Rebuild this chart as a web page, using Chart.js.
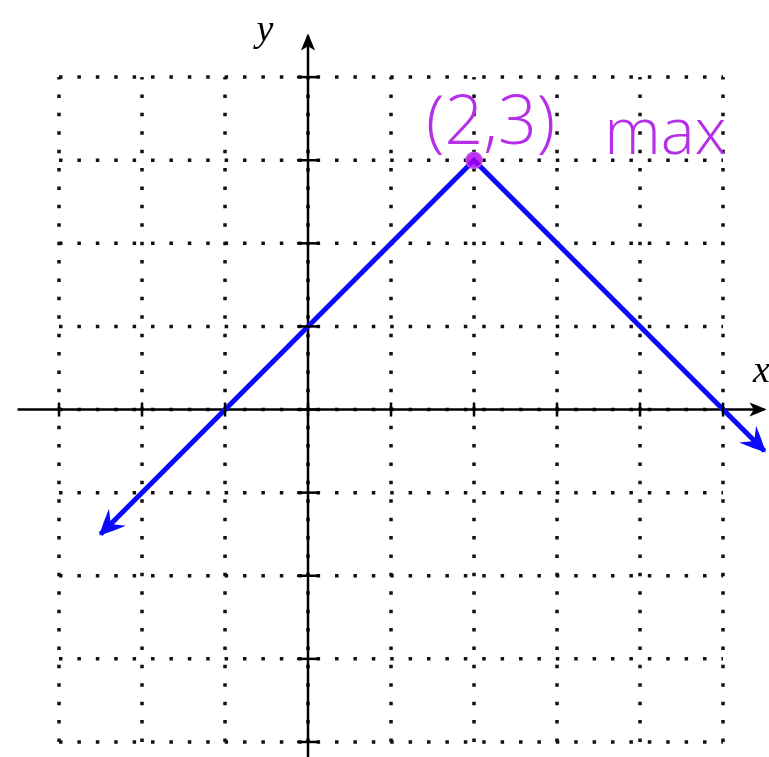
<!DOCTYPE html>
<html>
<head>
<meta charset="utf-8">
<script src="https://cdn.jsdelivr.net/npm/chart.js@4.4.1/dist/chart.umd.min.js"></script>
<style>
    html, body { margin: 0; padding: 0; background: #fff; }
    canvas { display: block; }
</style>
</head>
<body>
<canvas id="graph" width="769" height="757"></canvas>
<script>
// Valores de la gráfica y = -|x - 2| + 3
const xTicks = [-3, -2, -1, 0, 1, 2, 3, 4, 5];
const yTicks = [-4, -3, -2, -1, 0, 1, 2, 3, 4];
const lineX = [-2.5, 2, 5.5];
const lineY = [-1.5, 3, -0.5];
const maxPoint = { x: 2, y: 3 };
const maxLabel = '(2,3)';
const maxText = 'max';
const xAxisRange = [-3.5, 5.5];
const yAxisRange = [-4.5, 4.5];

const PURPLE = '#b52ee8';
const BLUE = '#0a0aff';

// Líneas punteadas de la cuadrícula
const gridSets = [];
xTicks.forEach(x => {
    gridSets.push({
        data: [{ x: x, y: yTicks[0] }, { x: x, y: yTicks[yTicks.length - 1] }],
        borderColor: '#111', borderWidth: 3.5, borderDash: [3.5, 14.9],
        pointRadius: 0, showLine: true, order: 5
    });
});
yTicks.forEach(y => {
    gridSets.push({
        data: [{ x: xTicks[0], y: y }, { x: xTicks[xTicks.length - 1], y: y }],
        borderColor: '#111', borderWidth: 3.5, borderDash: [3.5, 14.9],
        pointRadius: 0, showLine: true, order: 5
    });
});

const lineSet = {
    data: lineX.map((x, i) => ({ x: x, y: lineY[i] })),
    borderColor: BLUE, borderWidth: 5, pointRadius: 0, showLine: true,
    borderCapStyle: 'butt', borderJoinStyle: 'miter', order: 1
};
const pointSet = {
    data: [maxPoint],
    pointRadius: 8, backgroundColor: 'rgba(175,0,235,0.8)', borderColor: '#c44cf0',
    borderWidth: 1.5, showLine: false, order: 0
};
const xAxisSet = {
    data: [{ x: xAxisRange[0], y: 0 }, { x: xAxisRange[1], y: 0 }],
    borderColor: '#000', borderWidth: 2.5, pointRadius: 0, showLine: true, order: 3
};
const yAxisSet = {
    data: [{ x: 0, y: yAxisRange[0] }, { x: 0, y: yAxisRange[1] }],
    borderColor: '#000', borderWidth: 2.5, pointRadius: 0, showLine: true, order: 3
};

// Dibuja una punta de flecha tipo "stealth"
function arrowHead(ctx, from, tip, len, half, notch, color) {
    const ang = Math.atan2(tip.y - from.y, tip.x - from.x);
    ctx.save();
    ctx.translate(tip.x, tip.y);
    ctx.rotate(ang);
    ctx.fillStyle = color;
    ctx.beginPath();
    ctx.moveTo(2, 0);
    ctx.quadraticCurveTo(-len * 0.5, half * 0.6, -len, half);
    ctx.lineTo(-len * notch, 0);
    ctx.lineTo(-len, -half);
    ctx.quadraticCurveTo(-len * 0.5, -half * 0.6, 2, 0);
    ctx.fill();
    ctx.restore();
}

const decorations = {
    id: 'decorations',
    afterDatasetsDraw(chart) {
        const ctx = chart.ctx;
        const xs = chart.scales.x;
        const ys = chart.scales.y;
        const px = v => xs.getPixelForValue(v);
        const py = v => ys.getPixelForValue(v);

        // marcas en los ejes
        ctx.save();
        ctx.strokeStyle = '#000';
        ctx.lineWidth = 2.5;
        xTicks.forEach(x => {
            ctx.beginPath();
            ctx.moveTo(px(x), py(0) - 7);
            ctx.lineTo(px(x), py(0) + 7);
            ctx.stroke();
        });
        yTicks.forEach(y => {
            ctx.beginPath();
            ctx.moveTo(px(0) - 11, py(y));
            ctx.lineTo(px(0) + 11, py(y));
            ctx.stroke();
        });
        ctx.restore();

        // flechas de los ejes
        arrowHead(ctx, { x: px(xAxisRange[0]), y: py(0) }, { x: px(xAxisRange[1]), y: py(0) }, 15, 7, 0.72, '#000');
        arrowHead(ctx, { x: px(0), y: py(yAxisRange[0]) }, { x: px(0), y: py(yAxisRange[1]) }, 15, 7, 0.72, '#000');

        // flechas de la función
        const n = lineX.length;
        arrowHead(ctx, { x: px(lineX[1]), y: py(lineY[1]) }, { x: px(lineX[0]), y: py(lineY[0]) }, 24, 12, 0.6, BLUE);
        arrowHead(ctx, { x: px(lineX[n - 2]), y: py(lineY[n - 2]) }, { x: px(lineX[n - 1]), y: py(lineY[n - 1]) }, 24, 12, 0.6, BLUE);

        // nombres de los ejes
        ctx.save();
        ctx.fillStyle = '#000';
        ctx.font = 'italic 38px "Liberation Serif"';
        ctx.textAlign = 'left';
        ctx.textBaseline = 'alphabetic';
        ctx.fillText('x', px(5.36), py(0.33));
        ctx.textAlign = 'center';
        ctx.fillText('y', px(-0.52), py(4.43));
        ctx.restore();

        // anotación del máximo
        ctx.save();
        ctx.fillStyle = PURPLE;
        ctx.font = '300 68px "Open Sans"';
        ctx.textAlign = 'center';
        ctx.textBaseline = 'alphabetic';
        ctx.fillText(maxLabel, px(2.2), py(3.2));
        ctx.font = '300 64px "Open Sans"';
        ctx.textAlign = 'left';
        ctx.fillText(maxText, px(3.57), py(3.07));
        ctx.restore();
    }
};

const chart = new Chart(document.getElementById('graph'), {
    type: 'scatter',
    data: {
        datasets: [pointSet, lineSet, xAxisSet, yAxisSet].concat(gridSets)
    },
    options: {
        responsive: false,
        animation: false,
        layout: { padding: 0, autoPadding: false },
        plugins: {
            legend: { display: false },
            tooltip: { enabled: false }
        },
        scales: {
            x: { type: 'linear', display: false, min: -3.711, max: 5.554 },
            y: { type: 'linear', display: false, min: -4.181, max: 4.928 }
        }
    },
    plugins: [decorations]
});
</script>
</body>
</html>
